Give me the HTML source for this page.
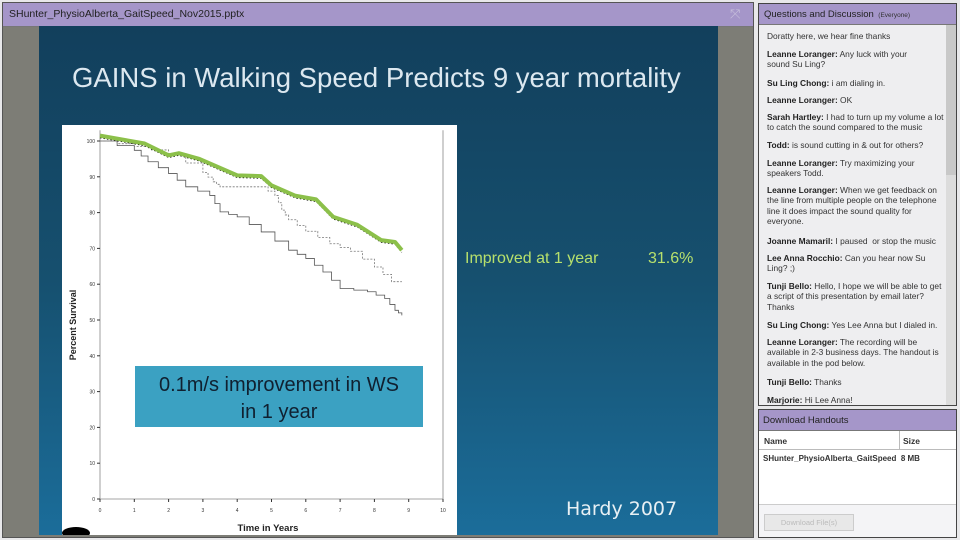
<!DOCTYPE html>
<html><head><meta charset="utf-8">
<style>
body{margin:0;width:960px;height:540px;overflow:hidden;background:#e8e8ea;font-family:"Liberation Sans",sans-serif;position:relative}
.abs{position:absolute}
#chat div{position:absolute;left:8px;width:176px;font-size:8.4px;line-height:10.3px;color:#333}
#chat b{color:#222}
</style></head><body>
<div class="abs" style="left:2px;top:2px;width:750px;height:534px;border:1px solid #555;background:#7d7d76">
  <div class="abs" style="left:0;top:0;width:750px;height:23px;background:#a596c9;border-bottom:1px solid #777">
    <span class="abs" style="left:6px;top:5px;font-size:10.5px;color:#222">SHunter_PhysioAlberta_GaitSpeed_Nov2015.pptx</span>
    <span class="abs" style="left:727px;top:3px;font-size:13px;color:#c8c0dc">⤧</span>
  </div>
</div>
<div class="abs" style="left:39px;top:26px;width:679px;height:509px;background:linear-gradient(180deg,#123f5c 0%,#16506f 50%,#1b6d9a 100%)">
  <div class="abs" style="left:33px;top:36px;font-size:27.5px;color:#dce8f0;white-space:nowrap">GAINS in Walking Speed Predicts 9 year mortality</div>
  <div class="abs" style="left:426px;top:224px;font-size:16px;color:#b7e06c;white-space:nowrap">Improved at 1 year</div>
  <div class="abs" style="left:609px;top:224px;font-size:16px;color:#b7e06c">31.6%</div>
  <div class="abs" style="left:527px;top:472px;font-size:19px;color:#e8f0f4;font-family:'DejaVu Sans',sans-serif">Hardy 2007</div>
</div>
<svg class="abs" style="left:62px;top:125px" width="395" height="410">
  <rect x="0" y="0" width="395" height="410" fill="#fff"/>
  <g id="g"></g>
  <rect x="73" y="241" width="288" height="61" fill="#3ba1c2"/>
  <text x="217" y="266" font-size="20" text-anchor="middle" fill="#102030">0.1m/s improvement in WS</text>
  <text x="217" y="293" font-size="20" text-anchor="middle" fill="#102030">in 1 year</text>
  <text transform="translate(14,200) rotate(-90)" font-size="9" font-weight="bold" text-anchor="middle" fill="#222">Percent Survival</text>
  <text x="206" y="406" font-size="9.5" font-weight="bold" text-anchor="middle" fill="#222">Time in Years</text>
  <ellipse cx="14" cy="408" rx="14" ry="6" fill="#000"/>
</svg>
<script>
const xTicks=[0,1,2,3,4,5,6,7,8,9,10];
const yTicks=[0,10,20,30,40,50,60,70,80,90,100];
const tImproved=[0,1.3,2.0,2.3,2.9,4.0,4.7,5.0,5.7,6.3,6.8,7.5,8.2,8.6,8.8];
const vImproved=[101.5,99.3,96,96.6,95,90.4,90.2,87.6,84.7,83.7,78.8,76.6,72.3,71.8,69.5];
const tDashed=[0,1,2,3,3.3,3.5,4.7,5.1,5.3,5.5,6,6.7,7.3,8,8.5,8.8];
const vDashed=[100,98.5,96.5,91.2,88.6,87.2,87.2,84.8,80.7,78,74.8,71.3,69.2,64.8,60.7,60.7];
const tLower=[0,1,1.4,2,2.5,3.2,3.5,4,4.7,5.5,6,6.5,7,7.8,8.3,8.6,8.8];
const vLower=[100,97.4,94.2,90.9,87.2,84.8,80.2,78.8,74.6,69.5,67.2,63.4,58.8,57.9,56,52.7,51.3];
const X=t=>38+34.3*t, Y=v=>374-3.58*v;
const NS="http://www.w3.org/2000/svg", g=document.getElementById('g');
function mk(tag,a){const e=document.createElementNS(NS,tag);for(const k in a)e.setAttribute(k,a[k]);g.appendChild(e);return e;}
let ax=mk('path',{d:`M${X(0)},${Y(103)}V${Y(0)}H${X(10)}V${Y(103)}`,stroke:'#888',fill:'none','stroke-width':0.8});


xTicks.forEach(t=>{mk('line',{x1:X(t),x2:X(t),y1:Y(0),y2:Y(0)+3,stroke:'#333'});
 const l=mk('text',{x:X(t),y:Y(0)+13,'font-size':5,'text-anchor':'middle',fill:'#333'});l.textContent=t;
 
 });
yTicks.forEach(v=>{mk('line',{x1:X(0)-3,x2:X(0),y1:Y(v),y2:Y(v),stroke:'#333'});
 const l=mk('text',{x:X(0)-5,y:Y(v)+2,'font-size':5,'text-anchor':'end',fill:'#333'});l.textContent=v;
 
 });
function jag(ts,vs){let d=`M${X(ts[0])},${Y(vs[0])}`;for(let i=1;i<ts.length;i++){const tm=(ts[i-1]+ts[i])/2,vm=(vs[i-1]+vs[i])/2;d+=`H${X(tm)}V${Y(vm)}H${X(ts[i])}V${Y(vs[i])}`;}return d;}
function line(ts,vs){return ts.map((t,i)=>(i?'L':'M')+X(t)+','+Y(vs[i])).join('');}
let s1=mk('path',{d:jag(tLower,vLower),stroke:'#555',fill:'none','stroke-width':0.8});


let s2=mk('path',{d:jag(tDashed,vDashed),stroke:'#777',fill:'none','stroke-width':0.8,'stroke-dasharray':'2,1.5'});


let s3=mk('path',{d:line(tImproved,vImproved.map(v=>v-0.6)),stroke:'#000',fill:'none','stroke-width':1,'stroke-dasharray':'1.5,2'});


let s4=mk('path',{d:line(tImproved,vImproved),stroke:'#8cc04a',fill:'none','stroke-width':4,'stroke-linejoin':'round'});


</script>
<div class="abs" style="left:758px;top:3px;width:197px;height:401px;border:1px solid #444;background:#eeeef0">
  <div class="abs" style="left:0;top:0;width:197px;height:20px;background:#a596c9;border-bottom:1px solid #777">
    <span class="abs" style="left:5px;top:5px;font-size:9.5px;color:#222;white-space:nowrap">Questions and Discussion <span style="font-size:6.5px;color:#333">&nbsp;(Everyone)</span></span>
  </div>
  <div class="abs" style="left:187px;top:21px;width:10px;height:380px;background:#dcdcdc"><div style="position:absolute;left:0;top:0;width:10px;height:150px;background:#c8c8c8"></div></div>
  <div id="chat">
    <div style="top:27px">Doratty here, we hear fine thanks</div>
    <div style="top:45px;width:160px"><b>Leanne Loranger:</b> Any luck with your sound Su Ling?</div>
    <div style="top:74px"><b>Su Ling Chong:</b> i am dialing in.</div>
    <div style="top:91px"><b>Leanne Loranger:</b> OK</div>
    <div style="top:108px;width:184px"><b>Sarah Hartley:</b> I had to turn up my volume a lot to catch the sound compared to the music</div>
    <div style="top:136px"><b>Todd:</b> is sound cutting in &amp; out for others?</div>
    <div style="top:154px"><b>Leanne Loranger:</b> Try maximizing your speakers Todd.</div>
    <div style="top:181px"><b>Leanne Loranger:</b> When we get feedback on the line from multiple people on the telephone line it does impact the sound quality for everyone.</div>
    <div style="top:232px"><b>Joanne Mamaril:</b> I paused &nbsp;or stop the music</div>
    <div style="top:249px;width:160px"><b>Lee Anna Rocchio:</b> Can you hear now Su Ling? ;)</div>
    <div style="top:277px"><b>Tunji Bello:</b> Hello, I hope we will be able to get a script of this presentation by email later? Thanks</div>
    <div style="top:316px"><b>Su Ling Chong:</b> Yes Lee Anna but I dialed in.</div>
    <div style="top:333px;width:180px"><b>Leanne Loranger:</b> The recording will be available in 2-3 business days. The handout is available in the pod below.</div>
    <div style="top:373px"><b>Tunji Bello:</b> Thanks</div>
    <div style="top:391px"><b>Marjorie:</b> Hi Lee Anna!</div>
  </div>
</div>
<div class="abs" style="left:758px;top:409px;width:197px;height:127px;border:1px solid #444;background:#f4f4f6">
  <div class="abs" style="left:0;top:0;width:197px;height:20px;background:#a596c9;border-bottom:1px solid #777"><span class="abs" style="left:4px;top:5px;font-size:9.5px;color:#222">Download Handouts</span></div>
  <div class="abs" style="left:0;top:21px;width:197px;height:18px;background:#fff;border-bottom:1px solid #bbb"></div>
  <div class="abs" style="left:140px;top:21px;width:1px;height:18px;background:#bbb"></div>
  <span class="abs" style="left:5px;top:26px;font-size:8.5px;font-weight:bold;color:#333">Name</span>
  <span class="abs" style="left:144px;top:26px;font-size:8.5px;font-weight:bold;color:#333">Size</span>
  <div class="abs" style="left:0;top:40px;width:197px;height:16px;background:#fff"><span class="abs" style="left:4px;top:4px;font-size:8px;font-weight:bold;color:#333;white-space:nowrap">SHunter_PhysioAlberta_GaitSpeed&nbsp; 8 MB</span></div>
  <div class="abs" style="left:0;top:56px;width:197px;height:38px;background:#fff;border-bottom:1px solid #ccc"></div>
  <div class="abs" style="left:5px;top:104px;width:88px;height:15px;border:1px solid #ccc;background:#e8e8e8;font-size:7.5px;color:#bbb;text-align:center;line-height:15px">Download File(s)</div>
</div>
</body></html>
